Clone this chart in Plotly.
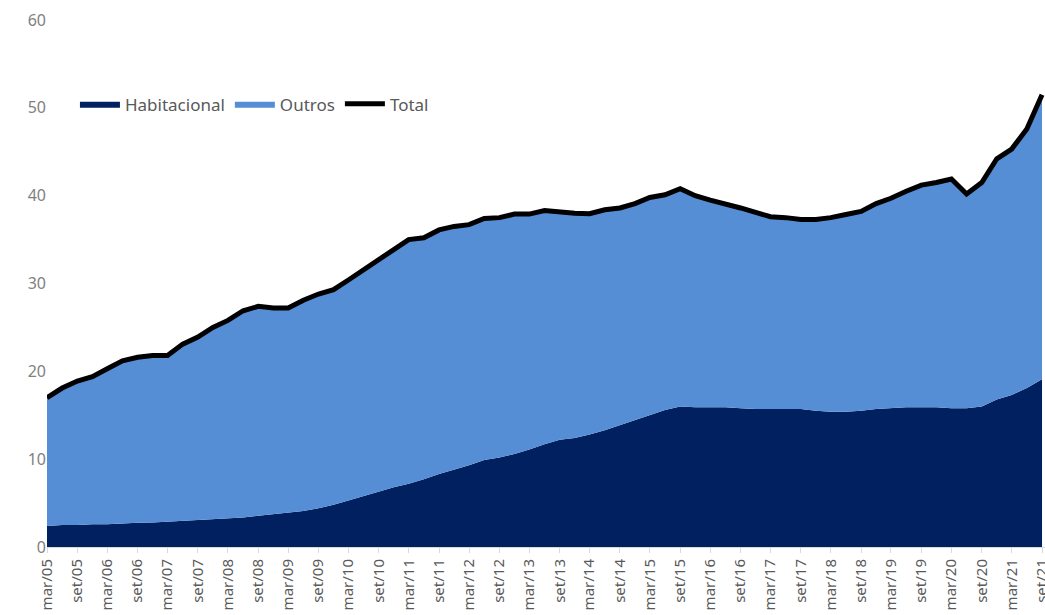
import pandas as pd
import plotly.graph_objects as go

# Quarterly observations, mar/05 .. set/21
dates = pd.date_range("2005-03-01", periods=67, freq="3MS")

habitacional = [2.4, 2.5, 2.5, 2.6, 2.6, 2.7, 2.75, 2.8, 2.9, 3.0, 3.05, 3.15,
                3.25, 3.35, 3.55, 3.75, 3.95, 4.1, 4.4, 4.8, 5.3, 5.8, 6.3, 6.8,
                7.2, 7.7, 8.3, 8.8, 9.3, 9.9, 10.2, 10.6, 11.1, 11.7, 12.2, 12.4,
                12.8, 13.3, 13.9, 14.5, 15.0, 15.6, 16.0, 15.9, 15.9, 15.9, 15.8, 15.7,
                15.7, 15.7, 15.7, 15.5, 15.4, 15.4, 15.5, 15.7, 15.8, 15.9, 15.9, 15.9,
                15.8, 15.8, 16.0, 16.8, 17.3, 18.1, 19.1]

outros = [14.6, 15.6, 16.4, 16.8, 17.7, 18.5, 18.85, 19.0, 18.9, 20.1, 20.85, 21.85,
          22.55, 23.55, 23.85, 23.45, 23.25, 24.0, 24.4, 24.5, 25.1, 25.8, 26.5, 27.1,
          27.8, 27.5, 27.8, 27.7, 27.4, 27.5, 27.3, 27.3, 26.8, 26.6, 25.9, 25.6,
          25.15, 25.1, 24.7, 24.6, 24.8, 24.5, 24.8, 24.1, 23.6, 23.2, 22.8, 22.4,
          21.9, 21.8, 21.6, 21.8, 22.1, 22.45, 22.7, 23.4, 23.9, 24.6, 25.3, 25.6,
          26.1, 24.4, 25.5, 27.4, 28.0, 29.5, 32.4]

total = [17.0, 18.1, 18.9, 19.4, 20.3, 21.2, 21.6, 21.8, 21.8, 23.1, 23.9, 25.0,
         25.8, 26.9, 27.4, 27.2, 27.2, 28.1, 28.8, 29.3, 30.4, 31.6, 32.8, 33.9,
         35.0, 35.2, 36.1, 36.5, 36.7, 37.4, 37.5, 37.9, 37.9, 38.3, 38.1, 38.0,
         37.95, 38.4, 38.6, 39.1, 39.8, 40.1, 40.8, 40.0, 39.5, 39.1, 38.6, 38.1,
         37.6, 37.5, 37.3, 37.3, 37.5, 37.85, 38.2, 39.1, 39.7, 40.5, 41.2, 41.5,
         41.9, 40.2, 41.5, 44.2, 45.3, 47.6, 51.5]

tick_dates = pd.date_range("2005-03-01", periods=34, freq="6MS")
tick_labels = ["mar/05", "set/05", "mar/06", "set/06", "mar/07", "set/07",
               "mar/08", "set/08", "mar/09", "set/09", "mar/10", "set/10",
               "mar/11", "set/11", "mar/12", "set/12", "mar/13", "set/13",
               "mar/14", "set/14", "mar/15", "set/15", "mar/16", "set/16",
               "mar/17", "set/17", "mar/18", "set/18", "mar/19", "set/19",
               "mar/20", "set/20", "mar/21", "set/21"]

FONT = "Noto Sans"
GRAY = "#595959"
LGRAY = "#7f7f7f"

fig = go.Figure()
fig.add_trace(go.Scatter(x=dates, y=habitacional, name="Habitacional",
                         stackgroup="one", mode="lines",
                         line=dict(width=0, color="#002060"),
                         fillcolor="#002060"))
fig.add_trace(go.Scatter(x=dates, y=outros, name="Outros",
                         stackgroup="one", mode="lines",
                         line=dict(width=0, color="#558ED5"),
                         fillcolor="#558ED5"))
fig.add_trace(go.Scatter(x=dates, y=total, name="Total", mode="lines",
                         line=dict(width=5, color="#000000")))

fig.update_layout(
    width=1045, height=615,
    margin=dict(l=47, r=0, t=20, b=68),
    paper_bgcolor="white", plot_bgcolor="white",
    font=dict(family=FONT, size=15, color=GRAY),
    showlegend=True,
    legend=dict(orientation="h", x=0.028, y=0.84, xanchor="left", yanchor="middle",
                font=dict(family=FONT, size=17, color=GRAY),
                bgcolor="rgba(0,0,0,0)", traceorder="normal", itemwidth=40),
    xaxis=dict(type="date",
               range=["2005-03-01", "2021-09-19"],
               tickmode="array", tickvals=tick_dates, ticktext=tick_labels,
               tickangle=-90, tickfont=dict(family=FONT, size=15, color=GRAY),
               ticklabeloverflow="allow",
               showgrid=False, showline=True, linecolor="#d9d9d9", linewidth=1,
               ticks="outside", ticklen=5, tickcolor="#d9d9d9",
               automargin=False, zeroline=False),
    yaxis=dict(range=[0, 60], dtick=10, showgrid=False, showline=False,
               zeroline=False, tickfont=dict(family=FONT, size=16, color=LGRAY),
               ticks="", automargin=False),
)

fig.write_html("out.html", config={"displayModeBar": False},
               post_script="document.body.style.margin='0';document.body.style.overflow='hidden';")
